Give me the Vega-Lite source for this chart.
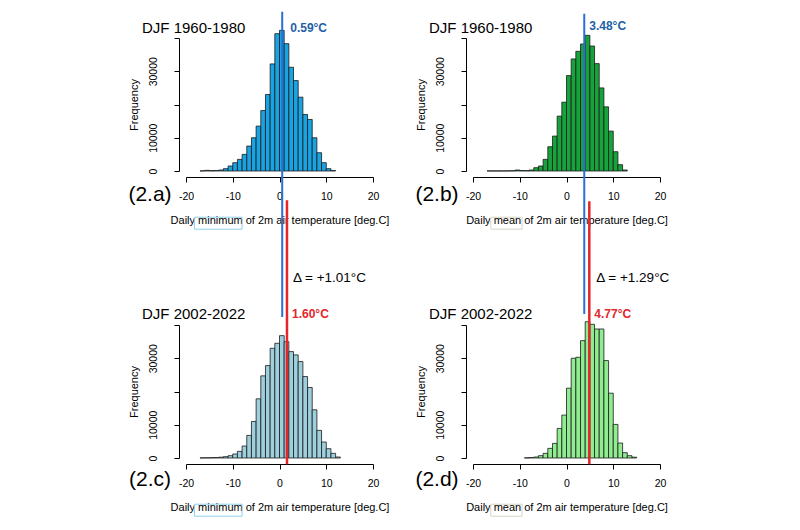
{
  "$schema": "https://vega.github.io/schema/vega-lite/v6.json",
  "autosize": {"type": "pad"},
  "padding": {"left": 128, "top": 10, "right": 5, "bottom": 5},
  "background": "white",
  "config": {
    "view": {"stroke": null},
    "axis": {"grid": false, "domainColor": "black", "tickColor": "black", "labelColor": "black", "titleColor": "black",
      "labelFont": "Liberation Sans", "titleFont": "Liberation Sans", "labelFontSize": 10.5, "titleFontSize": 11,
      "titleFontWeight": "normal", "tickSize": 5, "domainWidth": 1, "tickWidth": 1, "labelOverlap": false},
    "axisY": {"values": [0, 10000, 20000, 30000, 40000], "labelOverlap": false, "labelFlush": false, "labelBound": false,
      "labelExpr": "datum.value == 0 ? '0' : datum.value == 10000 ? '10000' : datum.value == 30000 ? '30000' : ''",
      "labelAngle": 270, "labelAlign": "center", "labelBaseline": "bottom", "labelPadding": 16, "offset": 7,
      "title": "Frequency", "titlePadding": 9},
    "axisX": {"values": [-20, -10, 0, 10, 20], "offset": 6, "labelPadding": 9, "labelFlush": false, "labelOverlap": false, "titlePadding": 13,
      "labelExpr": "'' + datum.value"},
    "text": {"font": "Liberation Sans"}
  },
  "datasets": {
    "a": [
      {"x0": -17, "x1": -16, "n": 50}, {"x0": -16, "x1": -15, "n": 200}, {"x0": -15, "x1": -14, "n": 100},
      {"x0": -14, "x1": -13, "n": 150}, {"x0": -13, "x1": -12, "n": 300}, {"x0": -12, "x1": -11, "n": 700},
      {"x0": -11, "x1": -10, "n": 1500}, {"x0": -10, "x1": -9, "n": 2500}, {"x0": -9, "x1": -8, "n": 3500},
      {"x0": -8, "x1": -7, "n": 5000}, {"x0": -7, "x1": -6, "n": 7500}, {"x0": -6, "x1": -5, "n": 10000},
      {"x0": -5, "x1": -4, "n": 13500}, {"x0": -4, "x1": -3, "n": 18200}, {"x0": -3, "x1": -2, "n": 23000},
      {"x0": -2, "x1": -1, "n": 32200}, {"x0": -1, "x1": 0, "n": 41300}, {"x0": 0, "x1": 1, "n": 42300},
      {"x0": 1, "x1": 2, "n": 38300}, {"x0": 2, "x1": 3, "n": 31200}, {"x0": 3, "x1": 4, "n": 27200},
      {"x0": 4, "x1": 5, "n": 22200}, {"x0": 5, "x1": 6, "n": 17000}, {"x0": 6, "x1": 7, "n": 15500},
      {"x0": 7, "x1": 8, "n": 10000}, {"x0": 8, "x1": 9, "n": 5500}, {"x0": 9, "x1": 10, "n": 2500},
      {"x0": 10, "x1": 11, "n": 700}, {"x0": 11, "x1": 12, "n": 150}
    ],
    "b": [
      {"x0": -17, "x1": -16, "n": 30}, {"x0": -16, "x1": -15, "n": 30}, {"x0": -15, "x1": -14, "n": 30},
      {"x0": -14, "x1": -13, "n": 30}, {"x0": -13, "x1": -12, "n": 50}, {"x0": -12, "x1": -11, "n": 80},
      {"x0": -11, "x1": -10, "n": 300}, {"x0": -10, "x1": -9, "n": 150}, {"x0": -9, "x1": -8, "n": 100},
      {"x0": -8, "x1": -7, "n": 300}, {"x0": -7, "x1": -6, "n": 1000}, {"x0": -6, "x1": -5, "n": 1500},
      {"x0": -5, "x1": -4, "n": 3500}, {"x0": -4, "x1": -3, "n": 7300}, {"x0": -3, "x1": -2, "n": 10500},
      {"x0": -2, "x1": -1, "n": 16500}, {"x0": -1, "x1": 0, "n": 20700}, {"x0": 0, "x1": 1, "n": 28700},
      {"x0": 1, "x1": 2, "n": 33700}, {"x0": 2, "x1": 3, "n": 36000}, {"x0": 3, "x1": 4, "n": 38200},
      {"x0": 4, "x1": 5, "n": 40800}, {"x0": 5, "x1": 6, "n": 37600}, {"x0": 6, "x1": 7, "n": 32300},
      {"x0": 7, "x1": 8, "n": 25000}, {"x0": 8, "x1": 9, "n": 19300}, {"x0": 9, "x1": 10, "n": 12000},
      {"x0": 10, "x1": 11, "n": 5800}, {"x0": 11, "x1": 12, "n": 1900}, {"x0": 12, "x1": 13, "n": 300}
    ],
    "c": [
      {"x0": -17, "x1": -16, "n": 50}, {"x0": -16, "x1": -15, "n": 80}, {"x0": -15, "x1": -14, "n": 100},
      {"x0": -14, "x1": -13, "n": 150}, {"x0": -13, "x1": -12, "n": 250}, {"x0": -12, "x1": -11, "n": 400},
      {"x0": -11, "x1": -10, "n": 700}, {"x0": -10, "x1": -9, "n": 1200}, {"x0": -9, "x1": -8, "n": 2000},
      {"x0": -8, "x1": -7, "n": 3600}, {"x0": -7, "x1": -6, "n": 6800}, {"x0": -6, "x1": -5, "n": 11000},
      {"x0": -5, "x1": -4, "n": 17800}, {"x0": -4, "x1": -3, "n": 24700}, {"x0": -3, "x1": -2, "n": 27800},
      {"x0": -2, "x1": -1, "n": 33000}, {"x0": -1, "x1": 0, "n": 34500}, {"x0": 0, "x1": 1, "n": 36800},
      {"x0": 1, "x1": 2, "n": 35000}, {"x0": 2, "x1": 3, "n": 32000}, {"x0": 3, "x1": 4, "n": 31000},
      {"x0": 4, "x1": 5, "n": 29000}, {"x0": 5, "x1": 6, "n": 24500}, {"x0": 6, "x1": 7, "n": 21200},
      {"x0": 7, "x1": 8, "n": 14500}, {"x0": 8, "x1": 9, "n": 8300}, {"x0": 9, "x1": 10, "n": 4800},
      {"x0": 10, "x1": 11, "n": 2800}, {"x0": 11, "x1": 12, "n": 1400}, {"x0": 12, "x1": 13, "n": 300}
    ],
    "d": [
      {"x0": -9, "x1": -8, "n": 50}, {"x0": -8, "x1": -7, "n": 150}, {"x0": -7, "x1": -6, "n": 300},
      {"x0": -6, "x1": -5, "n": 700}, {"x0": -5, "x1": -4, "n": 1400}, {"x0": -4, "x1": -3, "n": 2900},
      {"x0": -3, "x1": -2, "n": 4400}, {"x0": -2, "x1": -1, "n": 8900}, {"x0": -1, "x1": 0, "n": 12900},
      {"x0": 0, "x1": 1, "n": 21000}, {"x0": 1, "x1": 2, "n": 30000}, {"x0": 2, "x1": 3, "n": 30300},
      {"x0": 3, "x1": 4, "n": 35300}, {"x0": 4, "x1": 5, "n": 41000}, {"x0": 5, "x1": 6, "n": 40200},
      {"x0": 6, "x1": 7, "n": 38800}, {"x0": 7, "x1": 8, "n": 38800}, {"x0": 8, "x1": 9, "n": 29300},
      {"x0": 9, "x1": 10, "n": 19500}, {"x0": 10, "x1": 11, "n": 10100}, {"x0": 11, "x1": 12, "n": 4500},
      {"x0": 12, "x1": 13, "n": 1600}, {"x0": 13, "x1": 14, "n": 700}, {"x0": 14, "x1": 15, "n": 250}
    ],
    "one": [{}]
  },
  "columns": 2,
  "bounds": "flush",
  "spacing": {"row": 154, "column": 100},
  "concat": [
    {
      "width": 187, "height": 133,
      "layer": [
        {"data": {"name": "a"},
         "mark": {"type": "rect", "fill": "#18a3e3", "stroke": "#1a1a1a", "strokeWidth": 0.8, "clip": false},
         "encoding": {
           "x": {"field": "x0", "type": "quantitative", "scale": {"domain": [-20, 20], "nice": false, "zero": false},
             "axis": {"title": "Daily minimum of 2m air temperature [deg.C]"}},
           "x2": {"field": "x1"},
           "y": {"field": "n", "type": "quantitative", "scale": {"domain": [0, 40000], "nice": false}, "axis": {"title": "Frequency"}},
           "y2": {"datum": 0}}},
        {"data": {"name": "one"}, "mark": {"type": "rect", "fill": null, "stroke": "#8fd0ee", "strokeWidth": 1, "clip": false},
         "encoding": {"x": {"datum": -18.2}, "x2": {"datum": -8.0}, "y": {"datum": -13900}, "y2": {"datum": -17500}}},
        {"data": {"name": "one"}, "mark": {"type": "rule", "color": "#2a6fd6", "strokeWidth": 2, "clip": false},
         "encoding": {"x": {"datum": 0.58}, "y": {"datum": 47900}, "y2": {"datum": -43900}}},
        {"data": {"name": "one"}, "mark": {"type": "text", "text": "0.59°C", "color": "#1f5fa8", "fontWeight": "bold", "fontSize": 12, "align": "left", "baseline": "alphabetic", "dx": 8},
         "encoding": {"x": {"datum": 0.58}, "y": {"datum": 41900}}},
        {"data": {"name": "one"}, "mark": {"type": "text", "text": "DJF 1960-1980", "color": "black", "fontSize": 15, "align": "left", "baseline": "alphabetic", "dx": -44},
         "encoding": {"x": {"datum": -20}, "y": {"datum": 41600}}},
        {"data": {"name": "one"}, "mark": {"type": "text", "text": "(2.a)", "color": "black", "fontSize": 21, "align": "center", "baseline": "middle", "dx": -36, "dy": 24},
         "encoding": {"x": {"datum": -20}, "y": {"datum": 0}}}
      ]
    },
    {
      "width": 187, "height": 133,
      "layer": [
        {"data": {"name": "b"},
         "mark": {"type": "rect", "fill": "#17a33b", "stroke": "#1a1a1a", "strokeWidth": 0.8, "clip": false},
         "encoding": {
           "x": {"field": "x0", "type": "quantitative", "scale": {"domain": [-20, 20], "nice": false, "zero": false},
             "axis": {"title": "Daily mean of 2m air temperature [deg.C]"}},
           "x2": {"field": "x1"},
           "y": {"field": "n", "type": "quantitative", "scale": {"domain": [0, 40000], "nice": false}, "axis": {"title": "Frequency"}},
           "y2": {"datum": 0}}},
        {"data": {"name": "one"}, "mark": {"type": "rect", "fill": null, "stroke": "#d6d6c4", "strokeWidth": 1, "clip": false},
         "encoding": {"x": {"datum": -16.2}, "x2": {"datum": -9.5}, "y": {"datum": -13900}, "y2": {"datum": -17500}}},
        {"data": {"name": "one"}, "mark": {"type": "rule", "color": "#2a6fd6", "strokeWidth": 2, "clip": false},
         "encoding": {"x": {"datum": 3.8}, "y": {"datum": 47300}, "y2": {"datum": -43000}}},
        {"data": {"name": "one"}, "mark": {"type": "text", "text": "3.48°C", "color": "#1f5fa8", "fontWeight": "bold", "fontSize": 12, "align": "left", "baseline": "alphabetic", "dx": 5},
         "encoding": {"x": {"datum": 3.8}, "y": {"datum": 42500}}},
        {"data": {"name": "one"}, "mark": {"type": "text", "text": "DJF 1960-1980", "color": "black", "fontSize": 15, "align": "left", "baseline": "alphabetic", "dx": -44},
         "encoding": {"x": {"datum": -20}, "y": {"datum": 41600}}},
        {"data": {"name": "one"}, "mark": {"type": "text", "text": "(2.b)", "color": "black", "fontSize": 21, "align": "center", "baseline": "middle", "dx": -36, "dy": 24},
         "encoding": {"x": {"datum": -20}, "y": {"datum": 0}}}
      ]
    },
    {
      "width": 187, "height": 133,
      "layer": [
        {"data": {"name": "c"},
         "mark": {"type": "rect", "fill": "#9dcfdc", "stroke": "#1a1a1a", "strokeWidth": 0.8, "clip": false},
         "encoding": {
           "x": {"field": "x0", "type": "quantitative", "scale": {"domain": [-20, 20], "nice": false, "zero": false},
             "axis": {"title": "Daily minimum of 2m air temperature [deg.C]"}},
           "x2": {"field": "x1"},
           "y": {"field": "n", "type": "quantitative", "scale": {"domain": [0, 40000], "nice": false}, "axis": {"title": "Frequency"}},
           "y2": {"datum": 0}}},
        {"data": {"name": "one"}, "mark": {"type": "rect", "fill": null, "stroke": "#8fd0ee", "strokeWidth": 1, "clip": false},
         "encoding": {"x": {"datum": -18.2}, "x2": {"datum": -8.0}, "y": {"datum": -13900}, "y2": {"datum": -17500}}},
        {"data": {"name": "one"}, "mark": {"type": "rule", "color": "#e3262b", "strokeWidth": 2.5, "clip": false},
         "encoding": {"x": {"datum": 1.6}, "y": {"datum": 77500}, "y2": {"datum": -1900}}},
        {"data": {"name": "one"}, "mark": {"type": "text", "text": "1.60°C", "color": "#e3262b", "fontWeight": "bold", "fontSize": 12, "align": "left", "baseline": "alphabetic", "dx": 5},
         "encoding": {"x": {"datum": 1.6}, "y": {"datum": 42200}}},
        {"data": {"name": "one"}, "mark": {"type": "text", "text": "Δ = +1.01°C", "color": "black", "fontSize": 13.5, "align": "left", "baseline": "alphabetic", "dx": 6},
         "encoding": {"x": {"datum": 1.6}, "y": {"datum": 53000}}},
        {"data": {"name": "one"}, "mark": {"type": "text", "text": "DJF 2002-2022", "color": "black", "fontSize": 15, "align": "left", "baseline": "alphabetic", "dx": -44},
         "encoding": {"x": {"datum": -20}, "y": {"datum": 41800}}},
        {"data": {"name": "one"}, "mark": {"type": "text", "text": "(2.c)", "color": "black", "fontSize": 21, "align": "center", "baseline": "middle", "dx": -36, "dy": 22},
         "encoding": {"x": {"datum": -20}, "y": {"datum": 0}}}
      ]
    },
    {
      "width": 187, "height": 133,
      "layer": [
        {"data": {"name": "d"},
         "mark": {"type": "rect", "fill": "#90ec90", "stroke": "#1a1a1a", "strokeWidth": 0.8, "clip": false},
         "encoding": {
           "x": {"field": "x0", "type": "quantitative", "scale": {"domain": [-20, 20], "nice": false, "zero": false},
             "axis": {"title": "Daily mean of 2m air temperature [deg.C]"}},
           "x2": {"field": "x1"},
           "y": {"field": "n", "type": "quantitative", "scale": {"domain": [0, 40000], "nice": false}, "axis": {"title": "Frequency"}},
           "y2": {"datum": 0}}},
        {"data": {"name": "one"}, "mark": {"type": "rect", "fill": null, "stroke": "#d6d6c4", "strokeWidth": 1, "clip": false},
         "encoding": {"x": {"datum": -16.2}, "x2": {"datum": -9.5}, "y": {"datum": -13900}, "y2": {"datum": -17500}}},
        {"data": {"name": "one"}, "mark": {"type": "rule", "color": "#e3262b", "strokeWidth": 2.5, "clip": false},
         "encoding": {"x": {"datum": 4.88}, "y": {"datum": 77200}, "y2": {"datum": -1900}}},
        {"data": {"name": "one"}, "mark": {"type": "text", "text": "4.77°C", "color": "#e3262b", "fontWeight": "bold", "fontSize": 12, "align": "left", "baseline": "alphabetic", "dx": 5},
         "encoding": {"x": {"datum": 4.88}, "y": {"datum": 42200}}},
        {"data": {"name": "one"}, "mark": {"type": "text", "text": "Δ = +1.29°C", "color": "black", "fontSize": 13.5, "align": "left", "baseline": "alphabetic", "dx": 7},
         "encoding": {"x": {"datum": 4.88}, "y": {"datum": 53000}}},
        {"data": {"name": "one"}, "mark": {"type": "text", "text": "DJF 2002-2022", "color": "black", "fontSize": 15, "align": "left", "baseline": "alphabetic", "dx": -44},
         "encoding": {"x": {"datum": -20}, "y": {"datum": 41800}}},
        {"data": {"name": "one"}, "mark": {"type": "text", "text": "(2.d)", "color": "black", "fontSize": 21, "align": "center", "baseline": "middle", "dx": -36, "dy": 22},
         "encoding": {"x": {"datum": -20}, "y": {"datum": 0}}}
      ]
    }
  ]
}
